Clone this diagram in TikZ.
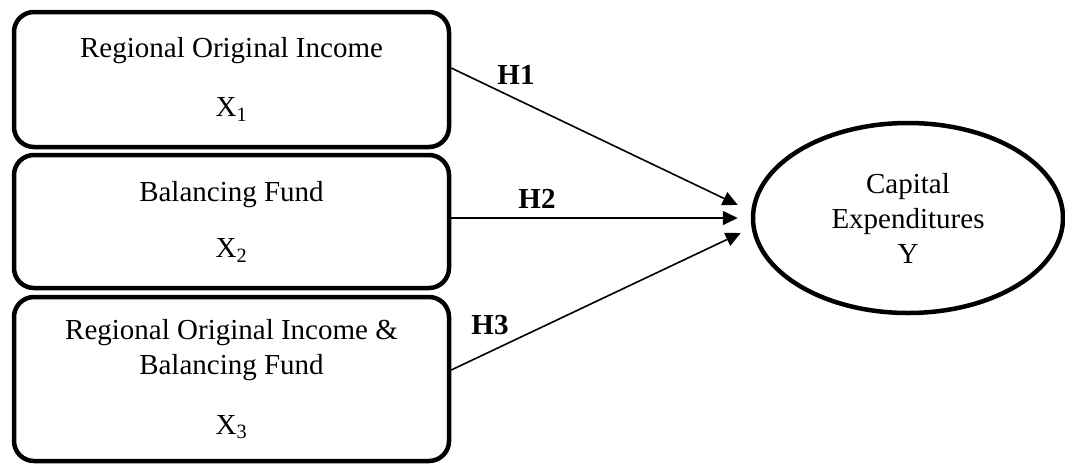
\documentclass[tikz,border=0pt]{standalone}
\usepackage{fontspec}
\setmainfont{Liberation Serif}
\usetikzlibrary{calc}
\usetikzlibrary{arrows.meta}
\usetikzlibrary{shapes.geometric}

\tikzset{
  boite/.style={draw, line width=4.5pt, rounded corners=20pt, minimum width=435pt, inner sep=0pt, align=center},
  bulle/.style={draw, ellipse, line width=4.5pt, minimum width=310pt, minimum height=190pt, inner sep=0pt, align=center},
  fleche/.style={-{Triangle[length=15pt,width=14pt]}, line width=1.6pt},
  hypo/.style={font=\fontsize{29}{35}\selectfont\bfseries}
}

\begin{document}
\begin{tikzpicture}[x=1pt,y=-1pt,font=\fontsize{29}{35}\selectfont]

\useasboundingbox (0,0) rectangle (1065,464);

%%%%%%%%%%%%%%%%%%%%%%%%
%Variables X
%%%%%%%%%%%%%%%%%%%%%%%%

\node[boite,minimum height=135pt] (x1) at (231.5,79.5) {Regional Original Income\\[24pt]X\textsubscript{1}};
\node[boite,minimum height=133pt] (x2) at (231.5,221.5) {Balancing Fund\\[21pt]X\textsubscript{2}};
\node[boite,minimum height=164pt] (x3) at (231.5,379) {Regional Original Income \&\\Balancing Fund\\[25pt]X\textsubscript{3}};

%%%%%%%%%%%%%%%%%%%%%%%%
%Variable Y
%%%%%%%%%%%%%%%%%%%%%%%%

\node[bulle] (cap) at (908,218) {Capital\\Expenditures\\Y};

%%%%%%%%%%%%%%%%%%%%%%%%
%Fleches et hypotheses
%%%%%%%%%%%%%%%%%%%%%%%%

\coordinate (d1) at ($(x1.east)+(0,-11.5)$); %depart H1
\coordinate (d2) at ($(x2.east)+(0,-3.5)$);
\coordinate (d3) at ($(x3.east)+(0,-9)$);
\coordinate (a1) at ($(cap.west)+(-13,-13)$); %arrivee H1
\coordinate (a2) at ($(cap.west)+(-13,0)$);
\coordinate (a3) at ($(cap.west)+(-10,15)$);

\draw[fleche] (d1) -- (a1);
\draw[fleche] (d2) -- (a2);
\draw[fleche] (d3) -- (a3);

\node[hypo] (h1) at (516,75) {H1};
\node[hypo] (h2) at (537,199) {H2};
\node[hypo] (h3) at (490,325) {H3};

\end{tikzpicture}
\end{document}
